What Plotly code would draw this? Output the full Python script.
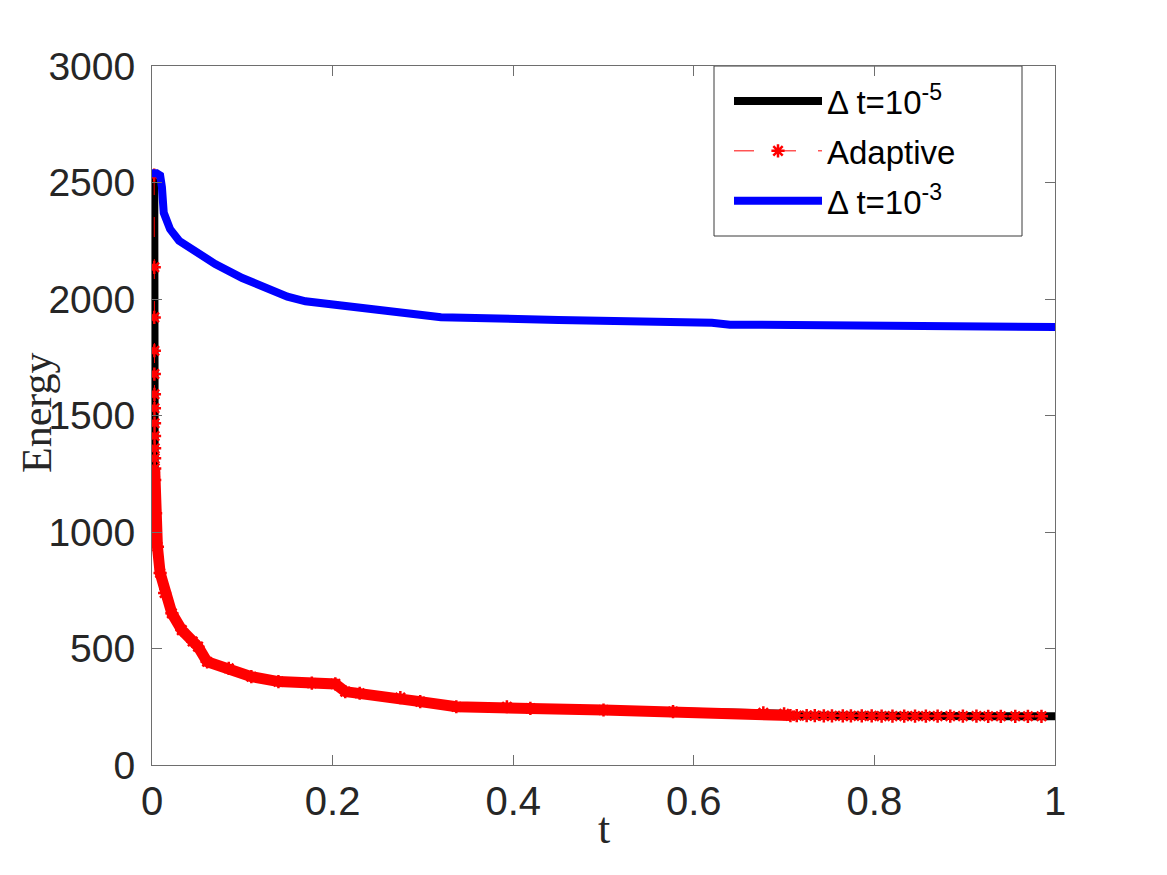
import plotly.graph_objects as go

# ---------------- data ----------------
# Delta t = 1e-5 (black)
fine_t = [0.0, 0.0025, 0.0030, 0.0040, 0.006, 0.009, 0.014, 0.022, 0.033, 0.045, 0.051,
          0.061, 0.085, 0.110, 0.140, 0.177, 0.203, 0.214, 0.230, 0.275, 0.297, 0.337,
          0.393, 0.419, 0.500, 0.577, 0.677, 0.700, 0.707, 0.800, 0.900, 1.000]
fine_E = [2540, 2532, 1223, 1081, 937, 824, 738, 651, 579, 530, 508,
          443, 415, 379, 358, 351, 348, 315, 308, 289, 272, 250,
          250, 243, 236, 229, 224, 220, 212, 211, 210, 209]

# Adaptive (red): steep initial drop markers
adapt_drop_t = [0.0024, 0.0025, 0.0025, 0.0026, 0.0026, 0.0027, 0.0027, 0.0028,
                0.0028, 0.0029, 0.0029, 0.0030]
adapt_drop_E = [2532, 2136, 1921, 1778, 1678, 1591, 1531, 1467, 1412, 1359, 1316, 1273]
# Adaptive: densely sampled part (markers merge into a band)
adapt_dense_t = [0.0030, 0.0040, 0.006, 0.009, 0.014, 0.022, 0.033, 0.045, 0.051, 0.061,
                 0.085, 0.110, 0.140, 0.177, 0.203, 0.214, 0.230, 0.275, 0.297, 0.337,
                 0.393, 0.419, 0.500, 0.577, 0.677, 0.700, 0.707]
adapt_dense_E = [1223, 1081, 937, 824, 738, 651, 579, 530, 508, 443,
                 415, 379, 358, 351, 348, 315, 308, 289, 272, 250,
                 250, 243, 236, 229, 224, 220, 212]
# Adaptive: sparse tail markers
adapt_tail_t = [0.714, 0.725, 0.734, 0.744, 0.753, 0.765, 0.774, 0.786, 0.797, 0.808,
                0.820, 0.833, 0.845, 0.857, 0.870, 0.884, 0.898, 0.913, 0.926, 0.940,
                0.956, 0.970, 0.985]
adapt_tail_E = [212, 212, 212, 211, 211, 211, 211, 211, 211, 210,
                210, 210, 210, 210, 210, 210, 210, 210, 209, 209,
                209, 209, 209]

# Delta t = 1e-3 (blue)
coarse_t = [0.0, 0.005, 0.009, 0.011, 0.013, 0.016, 0.020, 0.030, 0.050, 0.070, 0.100,
            0.130, 0.150, 0.170, 0.200, 0.250, 0.320, 0.450, 0.600, 0.620, 0.640,
            0.800, 1.000]
coarse_E = [2540, 2540, 2530, 2480, 2370, 2330, 2300, 2250, 2195, 2150, 2090,
            2045, 2010, 1990, 1975, 1955, 1922, 1910, 1902, 1898, 1890,
            1886, 1880]

x_ticks = [0, 0.2, 0.4, 0.6, 0.8, 1]
x_ticktext = ["0", "0.2", "0.4", "0.6", "0.8", "1"]
y_ticks = [0, 500, 1000, 1500, 2000, 2500, 3000]
y_ticktext = ["0", "500", "1000", "1500", "2000", "2500", "3000"]

name_fine = "\u0394 t=10<sup>-5</sup>"
name_adapt = "Adaptive"
name_coarse = "\u0394 t=10<sup>-3</sup>"
x_title = "t"
y_title = "Energy"

# ---------------- figure ----------------
fig = go.Figure()

fig.add_trace(go.Scatter(
    x=fine_t, y=fine_E, mode="lines", name=name_fine, legendgroup="g1",
    line=dict(color="black", width=8)))

band_t = adapt_drop_t[-1:] + adapt_dense_t
band_E = adapt_drop_E[-1:] + adapt_dense_E
fig.add_trace(go.Scatter(
    x=band_t, y=band_E, mode="lines", showlegend=False, hoverinfo="skip",
    legendgroup="g2", line=dict(color="red", width=11)))

fig.add_trace(go.Scatter(
    x=adapt_drop_t + adapt_dense_t + adapt_tail_t,
    y=adapt_drop_E + adapt_dense_E + adapt_tail_E,
    mode="lines+markers", name=name_adapt, legendgroup="g2",
    line=dict(color="red", width=1, dash="20px,22px"),
    marker=dict(symbol="asterisk-open", size=11, color="red",
                line=dict(color="red", width=2.5))))

fig.add_trace(go.Scatter(
    x=coarse_t, y=coarse_E, mode="lines", name=name_coarse, legendgroup="g3",
    line=dict(color="blue", width=8)))

axis_common = dict(
    showgrid=False, zeroline=False, showline=True, linecolor="#6e6e6e",
    linewidth=1, mirror="ticks", ticks="inside", ticklen=10,
    tickcolor="#6e6e6e", tickwidth=1)

fig.update_layout(
    width=1167, height=875,
    margin=dict(l=152, r=112, t=66, b=110),
    paper_bgcolor="white", plot_bgcolor="white",
    xaxis=dict(range=[0, 1], tickvals=x_ticks, ticktext=x_ticktext,
               tickfont=dict(family="Liberation Sans", size=40, color="#262626"),
               ticklabelstandoff=1, **axis_common),
    yaxis=dict(range=[0, 3000], tickvals=y_ticks, ticktext=y_ticktext,
               tickfont=dict(family="Liberation Sans", size=39, color="#262626"),
               ticklabelstandoff=8, **axis_common),
    legend=dict(x=(729 - 152) / 903, y=0.99, xanchor="left", yanchor="top",
                bgcolor="rgba(0,0,0,0)", borderwidth=0, itemwidth=88,
                traceorder="grouped", tracegroupgap=4,
                font=dict(family="Liberation Sans", size=33, color="black")),
    shapes=[dict(type="rect", xref="paper", yref="paper",
                 x0=(714 - 152) / 903, x1=(1022 - 152) / 903,
                 y0=(765 - 236) / 699, y1=1.0,
                 line=dict(color="#3a3a3a", width=1), fillcolor="white", layer="below")],
    annotations=[
        dict(text=x_title, xref="paper", yref="paper", x=0.5, y=(765 - 828) / 699,
             xanchor="center", yanchor="middle", showarrow=False,
             font=dict(family="Liberation Serif", size=44, color="#262626")),
        dict(text=y_title, xref="paper", yref="paper", x=(37 - 152) / 903,
             y=(765 - 413) / 699, xanchor="center", yanchor="middle",
             textangle=-90, showarrow=False,
             font=dict(family="Liberation Serif", size=42, color="#262626")),
    ],
)

fig.write_html("out.html")
